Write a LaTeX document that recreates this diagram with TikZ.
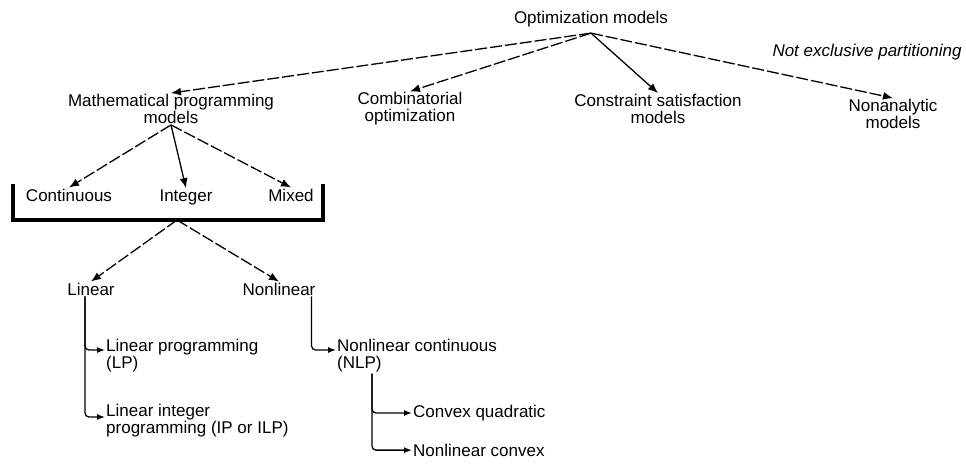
\documentclass[tikz,border=0pt]{standalone}
\usepackage{fontspec}
\setmainfont{Liberation Sans}
\usepackage{tikz}
\usetikzlibrary{arrows.meta, positioning}

\begin{document}
\begin{tikzpicture}[x=1pt, y=-1pt,
    box/.style={inner sep=1pt, align=center, font=\fontsize{17}{17}\selectfont},
    leaf/.style={box, anchor=west, align=left},
    dasharrow/.style={-{Latex[length=10pt,width=8pt]}, line width=1.3pt, dash pattern=on 12pt off 3pt},
    solidarrow/.style={-{Latex[length=10pt,width=8pt]}, line width=1.3pt},
    branch/.style={-{Latex[length=8pt,width=6pt]}, line width=1.3pt, rounded corners=4pt}]
            \useasboundingbox (0,0) rectangle (966,464);
            % top level
            \node[box] (opt) at (591,19) {Optimization models};
            \node[box, font=\fontsize{17}{17}\selectfont\itshape] (note) at (867,52) {Not exclusive partitioning};
            \node[box] (math) at (171,109) {Mathematical programming\\models};
            \node[box] (comb) at (410,109) {Combinatorial\\optimization};
            \node[box] (csp) at (658,109) {Constraint satisfaction\\models};
            \node[box] (nonan) at (893,114) {Nonanalytic\\models};
            \coordinate (opt-s) at ([yshift=-5pt]opt.south);

            % variable types
            \node[box, anchor=base] (cont) at (69,201) {Continuous};
            \node[box, anchor=base] (int) at (186,201) {Integer};
            \node[box, anchor=base] (mixed) at (291,201) {Mixed};
            \coordinate (brl) at (13,184);
            \coordinate (brr) at (323,184);
            \coordinate (brk) at (177,220);
            \draw[line width=3.5pt] (brl) |- (brk) -| (brr);

            % linear / nonlinear
            \node[box] (lin) at (91,289) {Linear};
            \node[box] (nonlin) at (279,289) {Nonlinear};
            \node[leaf] (lp) at (105,356) {Linear programming\\(LP)};
            \node[leaf] (ilp) at (105,421) {Linear integer\\programming (IP or ILP)};
            \node[leaf] (nlp) at (336,356) {Nonlinear continuous\\(NLP)};
            \node[leaf] (cq) at (412,413) {Convex quadratic};
            \node[leaf] (nlc) [below = 28pt of cq.south west, anchor=west] {Nonlinear convex};
            \coordinate (lin-s) at ([xshift=-6pt]lin.south);
            \coordinate (nonlin-s) at ([xshift=-5pt]nonlin.south east);
            \coordinate (nlp-s) at ([xshift=36pt]nlp.south west);

            \draw[dasharrow]  (opt-s) -- (math.north);
            \draw[dasharrow]  (opt-s) -- (comb.north);
            \draw[solidarrow] (opt-s) -- (csp.north);
            \draw[dasharrow]  (opt-s) -- (nonan.north);

            \draw[dasharrow]  (math.south) -- (cont.north);
            \draw[solidarrow] (math.south) -- (int.north);
            \draw[dasharrow]  (math.south) -- (mixed.north);

            \draw[dasharrow]  (brk) -- (lin.north);
            \draw[dasharrow]  (brk) -- (nonlin.north);

            \draw[branch] (lin-s) |- ([yshift=6pt]lp.west);
            \draw[branch] (lin-s) |- ([yshift=4pt]ilp.west);
            \draw[branch] (nonlin-s) |- ([yshift=6pt]nlp.west);
            \draw[branch] (nlp-s) |- (cq.west);
            \draw[branch] (nlp-s) |- (nlc.west);
        \end{tikzpicture}
\end{document}
